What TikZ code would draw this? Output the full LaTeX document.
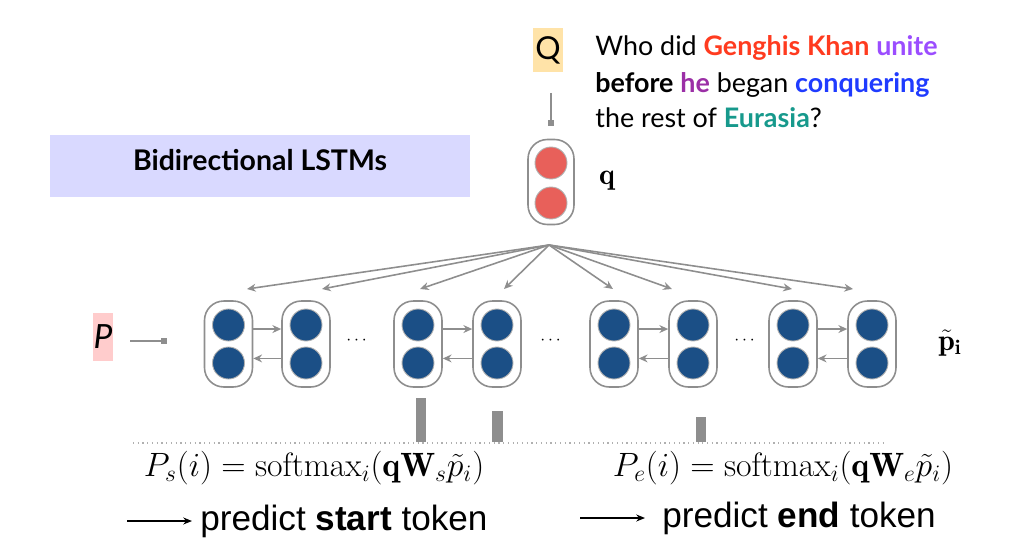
\RequirePackage{fix-cm}
\documentclass[tikz,border=0pt]{standalone}
\usepackage{amsmath}
\usepackage{amssymb}
\usepackage{fontspec}
\setsansfont{Lato}
\newfontfamily\arialfont{Liberation Sans}
\usetikzlibrary{positioning,arrows.meta}

\definecolor{qorange}{HTML}{FFE3A8}
\definecolor{ppink}{HTML}{FFCCCC}
\definecolor{lstmblue}{HTML}{D9D9FF}
\definecolor{cellred}{HTML}{E8605A}
\definecolor{cellblue}{HTML}{1B4F86}
\definecolor{linegray}{HTML}{8E8E8E}
\definecolor{gkred}{HTML}{FF3B1F}
\definecolor{unitepurple}{HTML}{9B4DFF}
\definecolor{hepurple}{HTML}{9B2FA6}
\definecolor{conqblue}{HTML}{1F3BFF}
\definecolor{eurteal}{HTML}{17998C}

\tikzset{
    cellbox/.style={draw=linegray, line width=0.9pt, rounded corners=11pt,
        minimum width=0.96cm, minimum height=1.72cm, inner sep=0pt},
    unit/.style={circle, fill=#1, draw=linegray!70, line width=0.5pt,
        minimum size=0.64cm, inner sep=0pt},
    link/.style={draw=linegray, line width=0.9pt, -{Stealth[length=5pt,width=4.5pt]}},
    feed/.style={draw=linegray, line width=0.9pt, -{Square[length=3.5pt,width=3.5pt]}},
    qtext/.style={font=\sffamily\fontsize{15.3}{18}\selectfont, anchor=base west, inner sep=0pt},
    formula/.style={font=\fontsize{19.2}{21}\selectfont, inner sep=0pt},
    predtext/.style={font=\arialfont\fontsize{20}{24}\selectfont, anchor=base west, inner sep=0pt},
}

\begin{document}
\begin{tikzpicture}[x=0.02cm,y=-0.02cm]
            \useasboundingbox (0,0) rectangle (1010,554);

            % question
            \node[fill=qorange, minimum width=0.6cm, minimum height=0.9cm, inner sep=0pt,
                font=\sffamily\fontsize{18}{20}\selectfont] (Q) at (548,50) {Q};
            \node[qtext] (ql1) at (595,56) {Who did \textbf{\color{gkred}Genghis Khan} \textbf{\color{unitepurple}unite}};
            \node[qtext] (ql2) at (595,92) {\textbf{before} \textbf{\color{hepurple}he} began \textbf{\color{conqblue}conquering}};
            \node[qtext] (ql3) at (595,128) {the rest of \textbf{\color{eurteal}Eurasia}?};

            % question vector
            \node[cellbox, minimum width=0.92cm, minimum height=1.7cm] (q) at (551,182) {};
            \node[unit=cellred] (qt) at (551,163) {};
            \node[unit=cellred] (qb) at (551,203) {};
            \node[font=\fontsize{17}{20}\selectfont] (qlab) at (607,181) {$\mathbf{q}$};
            \draw[feed] ([yshift=-0.4cm]Q.south -| q.north) -- ([yshift=0.26cm]q.north);

            \node[fill=lstmblue, minimum width=8.4cm, minimum height=1.24cm, inner sep=0pt] (lstm) at (260,166) {};
            \node[font=\sffamily\bfseries\fontsize{16.2}{18}\selectfont] (lstmlab) at (260,160) {Bidirectional LSTMs};

            % passage cells
            \foreach \n/\x in {1/228.5,2/306,3/418,4/497,5/614,6/693,7/793,8/872} {
                \node[cellbox] (c\n) at (\x,344) {};
                \node[unit=cellblue] (c\n t) at (\x,325) {};
                \node[unit=cellblue] (c\n b) at (\x,363) {};
            }
            \foreach \a/\b in {1/2,3/4,5/6,7/8} {
                \draw[link] ([yshift=-2.3pt]c\a.east |- c\a t) -- ([yshift=-2.3pt]c\b.west |- c\b t);
                \draw[link] ([yshift=2.6pt]c\b.west |- c\b b) -- ([yshift=2.6pt]c\a.east |- c\a b);
            }
            \node (dots1) at (358,341) {$\cdots$};
            \node (dots2) at (552,341) {$\cdots$};
            \node (dots3) at (746,341) {$\cdots$};

            % attention from q
            \coordinate (fan) at (549,245);
            \foreach \n/\x in {1/247,2/322,3/420,4/504,5/613,6/672,7/792,8/853} {
                \coordinate (t\n) at (\x,289);
                \draw[link] (fan) -- (t\n);
            }

            % passage input and output
            \node[fill=ppink, minimum width=0.4cm, minimum height=0.96cm, inner sep=0pt,
                font=\sffamily\itshape\fontsize{19}{20}\selectfont] (P) at (103,337) {P};
            \coordinate (pin) at (130,341);
            \draw[feed] (pin) -- ([xshift=-0.74cm]c1.west |- pin);
            \node[font=\fontsize{17}{20}\selectfont] (plab) at (950,343) {$\tilde{\mathbf{p}}_{\mathbf{i}}$};

            % scores
            \fill[linegray] (416,398) rectangle (426,442);
            \fill[linegray] (492,411) rectangle (503,442);
            \fill[linegray] (696,417) rectangle (706,442);
            \draw[linegray!70, dotted, line width=0.7pt] (133,443) -- (885,443);

            \node[formula] (fs) at (314,468) {$P_s(i)=\mathrm{softmax}_i(\mathbf{q}\mathbf{W}_s\tilde{p}_i)$};
            \node[formula] (fe) at (783,468) {$P_e(i)=\mathrm{softmax}_i(\mathbf{q}\mathbf{W}_e\tilde{p}_i)$};

            \node[predtext] (ps) at (200,530) {predict \textbf{start} token};
            \node[predtext] (pe) at (662,527) {predict \textbf{end} token};
            \coordinate (as) at (127,521);
            \coordinate (ae) at (580,518);
            \draw[-{Stealth[length=5pt,width=4pt]}, line width=0.7pt] (as) -- ([xshift=-0.16cm]ps.west |- as);
            \draw[-{Stealth[length=5pt,width=4pt]}, line width=0.7pt] (ae) -- ([xshift=-0.34cm]pe.west |- ae);

        \end{tikzpicture}
\end{document}
